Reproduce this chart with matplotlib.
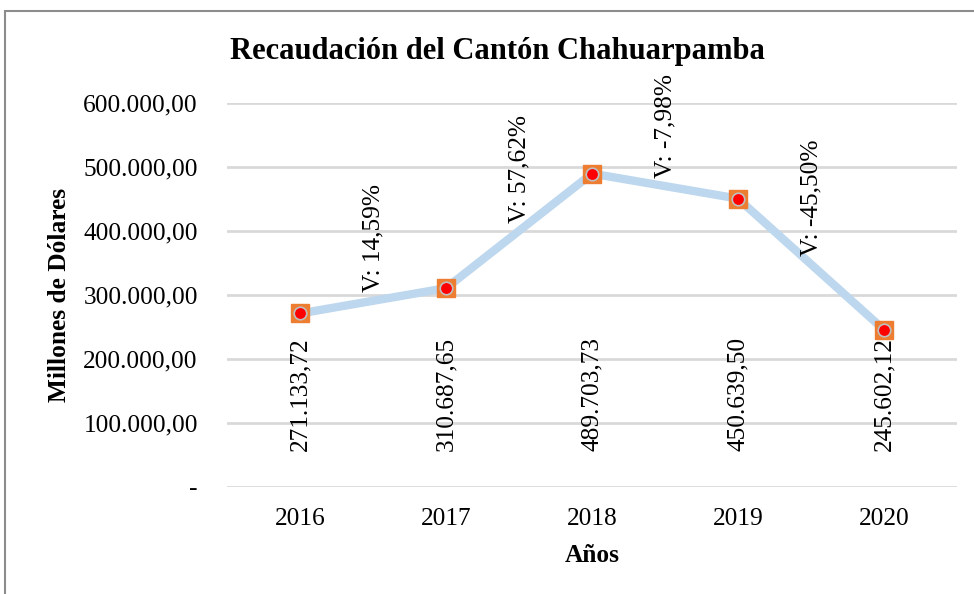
import numpy as np
import matplotlib.pyplot as plt
from matplotlib.patches import Rectangle
from matplotlib.ticker import FuncFormatter

plt.rcParams['font.family'] = ['Liberation Serif', 'DejaVu Serif']

years = ["2016", "2017", "2018", "2019", "2020"]
values = [271133.72, 310687.65, 489703.73, 450639.50, 245602.12]
value_labels = ["271.133,72", "310.687,65", "489.703,73", "450.639,50", "245.602,12"]
var_labels = ["V: 14,59%", "V: 57,62%", "V: -7,98%", "V: -45,50%"]

fig = plt.figure(figsize=(9.74, 5.94), dpi=100)
ax = fig.add_axes([227/974, 107/594, 730/974, 384/594])

x = np.arange(len(years))
ax.plot(x, values, color="#BDD7EE", lw=6, zorder=2, solid_capstyle="round")
ax.plot(x, values, ls="none", marker="s", ms=12.5, mfc="#ED7D31", mec="#ED7D31", zorder=3)
ax.plot(x, values, ls="none", marker="o", ms=9, mfc="#FF0000", mec="#BFBFBF", mew=1.2, zorder=4)

def fmt(v, pos):
    if v == 0:
        return "-"
    s = f"{v:,.2f}"
    return s.replace(",", "X").replace(".", ",").replace("X", ".")

fs = 18.3
ax.set_xlim(-0.5, len(years) - 0.5)
ax.set_ylim(0, 600000)
ax.set_yticks(np.arange(0, 600001, 100000))
ax.yaxis.set_major_formatter(FuncFormatter(fmt))
ax.set_xticks(x)
ax.set_xticklabels(years)
ax.tick_params(length=0, labelsize=fs)
ax.tick_params(axis="y", pad=21)
ax.tick_params(axis="x", pad=15)
ax.grid(axis="y", color="#D9D9D9", lw=2)
ax.set_axisbelow(True)
for s in ax.spines.values():
    s.set_visible(False)

trans = ax.get_xaxis_transform()
for i, lab in enumerate(value_labels):
    ax.text(x[i], 0.243, lab, transform=trans, rotation=90, ha="center", va="center", fontsize=fs)

for i, lab in enumerate(var_labels):
    mid = (values[i] + values[i + 1]) / 2
    ax.annotate(lab, (x[i] + 0.5, mid), xytext=(0, 6), textcoords="offset points",
                rotation=90, ha="center", va="bottom", fontsize=fs)

ax.set_ylabel("Millones de Dólares", fontsize=fs, fontweight="bold", labelpad=9)
ax.set_xlabel("Años", fontsize=fs, fontweight="bold", labelpad=10)
fig.text(497/974, 1 - 52/594, "Recaudación del Cantón Chahuarpamba", ha="center", va="center",
         fontsize=22, fontweight="bold")

fig.patches.append(Rectangle((5/974, -0.1), 1.2, 1 - 11/594 + 0.1, transform=fig.transFigure,
                             fill=False, ec="#8C8C8C", lw=1.5))

fig.savefig("out.png", dpi=100)
